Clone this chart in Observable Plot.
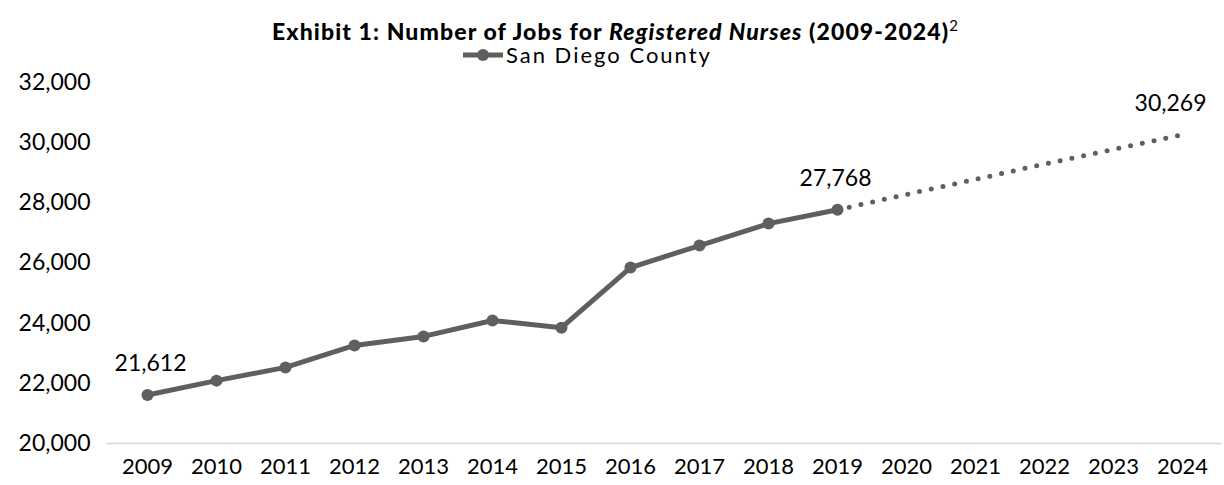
<!DOCTYPE html>
<html>
<head>
<meta charset="utf-8">
<script src="https://cdn.jsdelivr.net/npm/d3@7"></script>
<script src="https://cdn.jsdelivr.net/npm/@observablehq/plot@0.6"></script>
<style>
  body { margin: 0; background: #fff; font-family: Lato, "Open Sans", sans-serif; }
  #wrap { position: relative; width: 1224px; height: 485px; }
  #title { height: 45px; line-height: 50px; text-align: center; font-weight: 900; font-size: 23px; letter-spacing: 1.1px; color: #000; padding-left: 6px; }
  #title sup { font-weight: normal; font-size: 15px; letter-spacing: 0; }
  #legend { position: absolute; left: 461px; top: 41px; display: flex; align-items: center; font-size: 22px; letter-spacing: 2px; color: #000; }
  #legend svg { margin-right: 1px; }
</style>
</head>
<body>
<div id="wrap">
  <div id="title">Exhibit 1: Number of Jobs for <i>Registered Nurses</i> (2009-2024)<sup>2</sup></div>
  <div id="legend"><svg width="44" height="14"><line x1="2" y1="7" x2="42" y2="7" stroke="#5f5f5f" stroke-width="5"/><circle cx="22" cy="7" r="6" fill="#5f5f5f"/></svg>San Diego County</div>
  <div id="chart"></div>
</div>
<script>
const years = ["2009","2010","2011","2012","2013","2014","2015","2016","2017","2018","2019","2020","2021","2022","2023","2024"];
const actualYears = ["2009","2010","2011","2012","2013","2014","2015","2016","2017","2018","2019"];
const actualJobs = [21612, 22090, 22530, 23260, 23560, 24090, 23850, 25850, 26580, 27310, 27768];
const projYears = ["2019","2020","2021","2022","2023","2024"];
const projJobs = [27768, 28280, 28780, 29290, 29780, 30269];
const labelYears = ["2009","2019","2024"];
const labelJobs = [21612, 27768, 30269];
const yTicks = [20000, 22000, 24000, 26000, 28000, 30000, 32000];

const actual = actualYears.map((y, i) => ({year: y, jobs: actualJobs[i]}));
const proj = projYears.map((y, i) => ({year: y, jobs: projJobs[i]}));
const labels = labelYears.map((y, i) => ({year: y, jobs: labelJobs[i]}));
const color = "#5f5f5f";
const fmt = d3.format(",");
const labelMark = (i, dx) => Plot.text([labels[i]], { x: "year", y: "jobs", text: d => fmt(d.jobs), dy: -31, dx, fill: "#000", fontSize: 23, style: "letter-spacing:1px" });

const chart = Plot.plot({
  width: 1224,
  height: 440,
  marginLeft: 106,
  marginRight: 2,
  marginTop: 37,
  marginBottom: 42,
  style: { fontFamily: "Lato, 'Open Sans', sans-serif", fontSize: "22px", color: "#000", background: "#fff" },
  x: { type: "point", domain: years, padding: 0.5, label: null, tickSize: 0, tickPadding: 15 },
  y: { domain: [20000, 32000], ticks: yTicks, tickFormat: fmt, label: null, tickSize: 0, tickPadding: 16 },
  marks: [
    Plot.ruleY([20000], { stroke: "#d9d9d9", strokeWidth: 1.5 }),
    Plot.axisY({ ticks: yTicks, tickFormat: fmt, tickSize: 0, tickPadding: 16, fontSize: 23, style: "letter-spacing:1px", label: null }),
    Plot.line(proj, { x: "year", y: "jobs", stroke: color, strokeWidth: 5, strokeDasharray: "0,12", strokeLinecap: "round" }),
    Plot.line(actual, { x: "year", y: "jobs", stroke: color, strokeWidth: 5 }),
    Plot.dot(actual, { x: "year", y: "jobs", fill: color, r: 6 }),
    labelMark(0, 3),
    labelMark(1, -2),
    labelMark(2, -12)
  ]
});
document.getElementById("chart").appendChild(chart);
</script>
</body>
</html>
